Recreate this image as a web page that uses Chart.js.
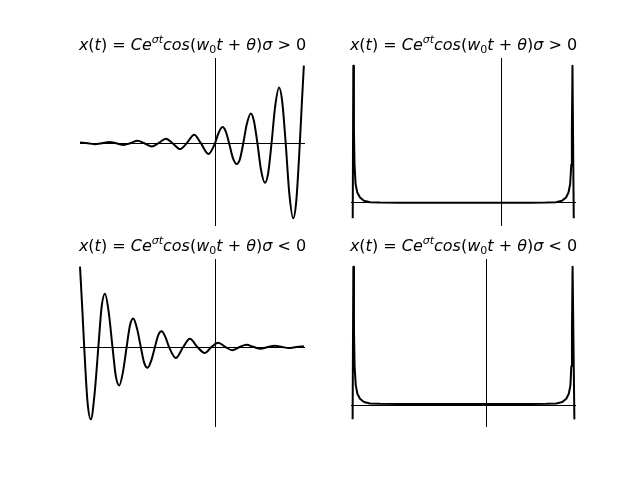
<!DOCTYPE html>
<html><head><meta charset="utf-8">
<script src="https://cdn.jsdelivr.net/npm/chart.js@4.4.1/dist/chart.umd.min.js"></script>
<style>
html,body{margin:0;padding:0;background:#fff;width:640px;height:480px;overflow:hidden;}
#fig{position:relative;width:640px;height:480px;background:#fff;}
canvas{position:absolute;}
.title{position:absolute;width:300px;text-align:center;font-family:"DejaVu Sans";font-size:16px;line-height:16px;white-space:nowrap;color:#000;}
.title i{font-style:italic;}
.title sup{font-size:11px;line-height:0;vertical-align:7px;}
.title sub{font-size:11px;line-height:0;vertical-align:-3px;}
</style></head><body><div id="fig"></div>
<script>
// ---- data ----
const growT = [-6.0, -5.655, -5.321, -5.027, -4.692, -4.398, -4.064, -3.770, -3.436, -3.142, -2.807, -2.513, -2.179, -1.885, -1.551, -1.257, -0.922, -0.628, -0.294, 0, 0.157, 0.334, 0.471, 0.628, 0.785, 0.962, 1.100, 1.257, 1.414, 1.591, 1.728, 1.885, 2.042, 2.219, 2.356, 2.513, 2.670, 2.847, 2.985, 3.142, 3.299, 3.476, 3.613, 3.770, 3.86, 3.95];
const growX = [0.05, 0, -0.07, 0, 0.095, 0, -0.13, 0, 0.18, 0, -0.245, 0, 0.335, 0, -0.44, 0, 0.63, 0, -0.8, 0, 0.76, 1.2, 0.9, 0, -1.05, -1.55, -1.23, 0, 1.43, 2.22, 1.68, 0, -1.96, -2.95, -2.30, 0, 2.69, 4.15, 3.14, 0, -3.68, -5.6, -4.30, 0, 3.0, 5.78];

const decayT = [-6.0, -5.9, -5.813, -5.666, -5.519, -5.352, -5.184, -5.037, -4.89, -4.723, -4.556, -4.406, -4.256, -4.092, -3.927, -3.78, -3.634, -3.467, -3.299, -3.147, -2.995, -2.833, -2.670, -2.522, -2.374, -2.208, -2.042, -1.739, -1.414, -1.118, -0.785, -0.452, -0.158, 0.137, 0.471, 0.764, 1.099, 1.39, 1.728, 2.02, 2.356, 2.65, 2.985, 3.28, 3.613, 3.95];
const decayX = [6.0, 2.9, 0, -4.1, -5.4, -3.5, 0, 3.03, 3.98, 2.59, 0, -2.19, -2.87, -1.87, 0, 1.61, 2.12, 1.38, 0, -1.18, -1.55, -1.01, 0, 0.89, 1.17, 0.76, 0, -0.82, 0, 0.62, 0, -0.45, 0, 0.32, 0, -0.24, 0, 0.17, 0, -0.13, 0, 0.09, 0, -0.07, 0, 0.05];

const spikeUpT = [-19.77, -19.69, -19.61, -19.53, -19.39, -19.16, -18.8, -18.27, -17.47, -16.13, -13.47, 3.87, 6.0, 7.33, 8.13, 8.67, 9.0, 9.22, 9.37, 9.45, 9.53, 9.70];
const spikeUpX = [-12.4, 100, 52.5, 27, 12.9, 6.6, 2.9, 0.5, -0.5, -0.8, -0.9, -0.9, -0.8, -0.5, 0.5, 2.9, 6.6, 12.9, 27, 52.5, 100, -12.4];

const spikeDownT = [-14.82, -14.74, -14.67, -14.60, -14.47, -14.29, -14.0, -13.56, -12.89, -11.78, -9.56, 4.89, 6.70, 7.81, 8.48, 8.92, 9.2, 9.38, 9.48, 9.55, 9.62, 9.82];
const spikeDownX = [-10.4, 100, 54.2, 28, 14.2, 8.1, 4.5, 2.1, 1.1, 0.8, 0.72, 0.72, 0.8, 1.1, 2.1, 4.5, 8.1, 14.2, 28, 54.2, 100, -10.4];

const signTop = "&gt;";
const signBottom = "&lt;";

// ---- layout ----
const P = 12;
const panels = [
  {left:80,  top:58,  t:growT,      x:growX,      xr:[-6,4],   mode:'monotone', sign:signTop},
  {left:351, top:58,  t:spikeUpT,   x:spikeUpX,   xr:[-20,10], mode:'default',  sign:signTop},
  {left:80,  top:259, t:decayT,     x:decayX,     xr:[-6,4],   mode:'monotone', sign:signBottom},
  {left:351, top:259, t:spikeDownT, x:spikeDownX, xr:[-15,10], mode:'default',  sign:signBottom}
];
const AW = 225, AH = 168;

const spines = {
  id:'spines',
  afterDatasetsDraw(chart){
    const {ctx, chartArea:a, scales:{x, y}} = chart;
    const x0 = Math.round(x.getPixelForValue(0)) + 0.5;
    const y0 = Math.round(y.getPixelForValue(0)) + 0.5;
    ctx.save();
    ctx.strokeStyle = '#000';
    ctx.lineWidth = 1;
    ctx.beginPath();
    ctx.moveTo(x0, a.top); ctx.lineTo(x0, a.bottom);
    ctx.moveTo(a.left, y0); ctx.lineTo(a.right, y0);
    ctx.stroke();
    ctx.restore();
  }
};

const fig = document.getElementById('fig');
panels.forEach(p => {
  const c = document.createElement('canvas');
  c.width = AW + 2*P; c.height = AH + 2*P;
  c.style.left = (p.left - P) + 'px';
  c.style.top = (p.top - P) + 'px';
  fig.appendChild(c);

  const ymin = Math.min(...p.x), ymax = Math.max(...p.x);
  const m = 0.05 * (ymax - ymin);
  const pts = p.t.map((t, i) => ({x:t, y:p.x[i]}));

  new Chart(c, {
    type:'line',
    data:{datasets:[{data:pts, borderColor:'#000', borderWidth:2, pointRadius:0, fill:false,
      cubicInterpolationMode:p.mode, tension:0, clip:false, borderJoinStyle:'round', borderCapStyle:'butt'}]},
    options:{
      responsive:false, animation:false, events:[],
      layout:{padding:P},
      plugins:{legend:{display:false}, tooltip:{enabled:false}, title:{display:false}},
      scales:{
        x:{type:'linear', min:p.xr[0], max:p.xr[1], display:false},
        y:{type:'linear', min:ymin - m, max:ymax + m, display:false}
      }
    },
    plugins:[spines]
  });

  const d = document.createElement('div');
  d.className = 'title';
  d.style.left = (p.left + AW/2 - 150) + 'px';
  d.style.top = (p.top - 21.5) + 'px';
  d.innerHTML = '<i>x</i>(<i>t</i>) = <i>Ce</i><sup><i>σt</i></sup><i>cos</i>(<i>w</i><sub>0</sub><i>t</i> + <i>θ</i>)<i>σ</i> ' + p.sign + ' 0';
  fig.appendChild(d);
});
</script></body></html>
